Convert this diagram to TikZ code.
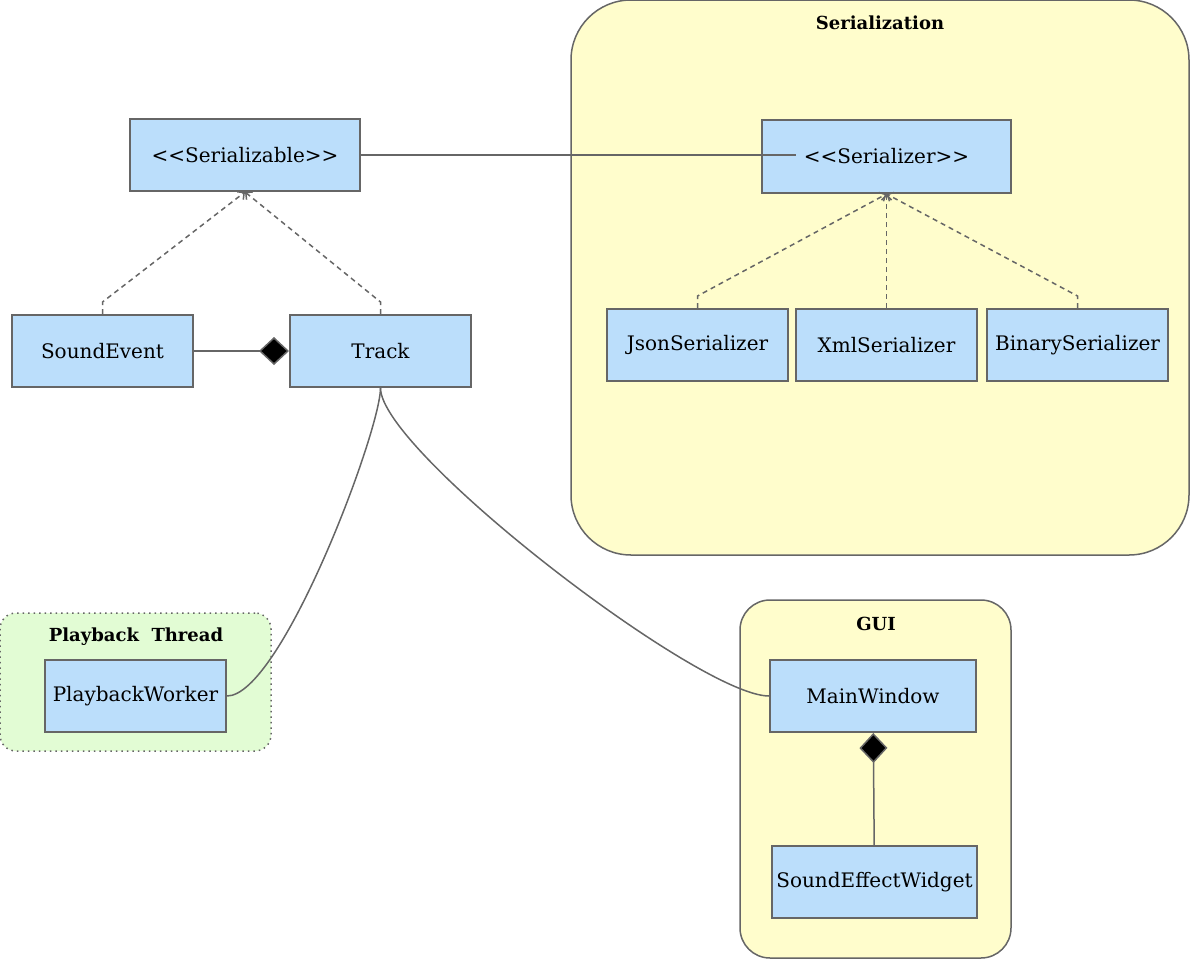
\documentclass[tikz,border=0pt]{standalone}
\usepackage{fontspec}
\setmainfont{DejaVu Serif}
\usetikzlibrary{arrows.meta,positioning}
\definecolor{boxblue}{RGB}{187,222,251}
\definecolor{linegray}{RGB}{102,102,102}
\definecolor{pkgyellow}{RGB}{255,253,204}
\definecolor{pkggreen}{RGB}{226,252,212}

\begin{document}
\begin{tikzpicture}[
	x=0.5pt, y=-0.5pt,
	box/.style={draw=linegray, fill=boxblue, line width=1pt, minimum width=90.5pt, minimum height=36pt, inner sep=2pt, font=\fontsize{10}{12}\selectfont},
	pkg/.style={draw=linegray, fill=pkgyellow, line width=0.75pt},
	title/.style={font=\bfseries\fontsize{9}{11}\selectfont},
	link/.style={draw=linegray, line width=0.75pt},
	real/.style={link, dash pattern=on 2.5pt off 2pt, -{Straight Barb[length=2.5pt, width=5pt]}},
	comp/.style={link, -{Diamond[length=15pt, width=14pt, fill=black]}}
]
\useasboundingbox (0,0) rectangle (1190,959);

% groups
\node[pkg, rounded corners=30pt, minimum width=309pt, minimum height=277.5pt] (serpkg) at (880,277.5) {};
\node[pkg, rounded corners=15pt, minimum width=135.5pt, minimum height=179pt] (guipkg) at (875.5,779) {};
\node[pkg, fill=pkggreen, dotted, rounded corners=8pt, minimum width=135.5pt, minimum height=69pt] (playpkg) at (135.5,682) {};
\node[title] (sertitle) at (880,23) {Serialization};
\node[title] (guititle) at (876,624) {GUI};
\node[title] (playtitle) at (136,637) {Playback~~Thread};

% classes
\node[box, minimum width=115pt] (szable) at (245,155) {<{}<Serializable>{}>};
\node[box] (se) at (102.5,351) {SoundEvent};
\node[box] (track) at (380.5,351) {Track};
\node[box, minimum width=124.5pt, minimum height=36.5pt] (ser) at (886.5,156.5) {<{}<Serializer>{}>};
\node[box] (json) at (697.5,345) {JsonSerializer};
\node[box] (xml) at (886.5,345) {XmlSerializer};
\node[box] (bin) at (1077.5,345) {BinarySerializer};
\node[box] (worker) at (135.5,696) {PlaybackWorker};
\node[box, minimum width=103pt] (mainwin) at (873,696) {MainWindow};
\node[box, minimum width=102.5pt] (widget) at (874.5,882) {SoundEffectWidget};

\draw[link, shorten >=4pt] (szable.east) -- (szable.east -| ser.text);
\draw[real] (se.north) -- ++(0,-12) -- (szable.south);
\draw[real] (track.north) -- ++(0,-12) -- (szable.south);
\draw[real] (json.north) -- ++(0,-12) -- (ser.south);
\draw[real] (xml) -- (ser);
\draw[real] (bin.north) -- ++(0,-12) -- (ser.south);
\draw[comp] (se) -- (track);
\draw[comp] (widget) -- (mainwin);
\draw[link] (track.south) .. controls +(0,43) and +(54,0) .. (worker.east);
\draw[link] (track.south) .. controls +(0,63) and +(-70,0) .. (mainwin.west);
\end{tikzpicture}
\end{document}
